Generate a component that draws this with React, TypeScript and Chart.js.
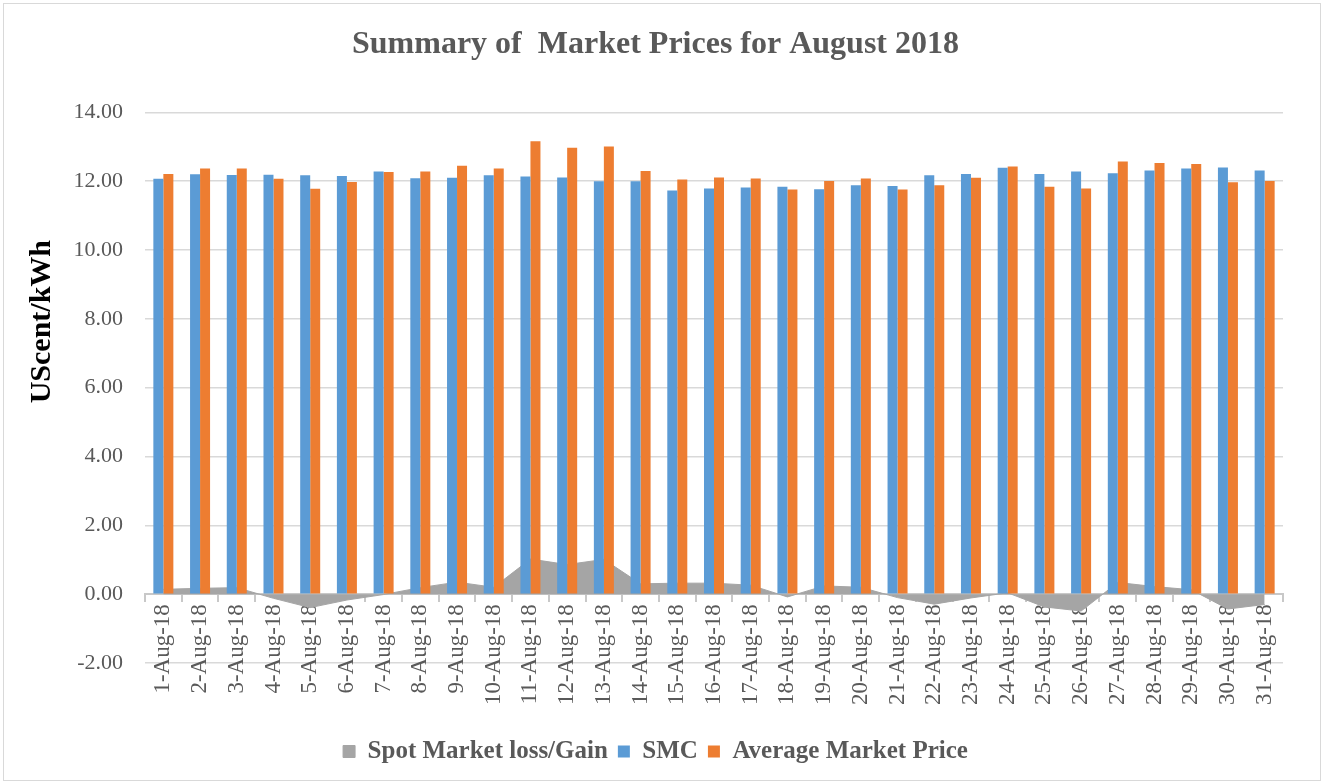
import React, { useEffect, useRef } from 'react';
import { Chart, registerables } from 'chart.js';

Chart.register(...registerables);

const chartTitle = 'Summary of  Market Prices for August 2018';
const yAxisTitle = 'UScent/kWh';

const categories = [
  '1-Aug-18', '2-Aug-18', '3-Aug-18', '4-Aug-18', '5-Aug-18', '6-Aug-18', '7-Aug-18', '8-Aug-18',
  '9-Aug-18', '10-Aug-18', '11-Aug-18', '12-Aug-18', '13-Aug-18', '14-Aug-18', '15-Aug-18', '16-Aug-18',
  '17-Aug-18', '18-Aug-18', '19-Aug-18', '20-Aug-18', '21-Aug-18', '22-Aug-18', '23-Aug-18', '24-Aug-18',
  '25-Aug-18', '26-Aug-18', '27-Aug-18', '28-Aug-18', '29-Aug-18', '30-Aug-18', '31-Aug-18',
];

const spotGain = [
  0.14, 0.17, 0.19, -0.12, -0.39, -0.17, -0.01, 0.19, 0.35, 0.2,
  1.02, 0.86, 1.01, 0.3, 0.32, 0.32, 0.26, -0.08, 0.24, 0.2,
  -0.1, -0.29, -0.11, 0.04, -0.37, -0.49, 0.34, 0.22, 0.13, -0.43, -0.3,
];

const smc = [
  12.07, 12.2, 12.18, 12.19, 12.17, 12.15, 12.28, 12.09, 12.1, 12.17,
  12.14, 12.11, 12.0, 12.0, 11.73, 11.79, 11.82, 11.84, 11.77, 11.88,
  11.86, 12.17, 12.21, 12.39, 12.21, 12.28, 12.23, 12.31, 12.37, 12.4, 12.31,
];

const avgPrice = [
  12.21, 12.37, 12.37, 12.07, 11.78, 11.98, 12.27, 12.28, 12.45, 12.37,
  13.16, 12.97, 13.01, 12.3, 12.05, 12.11, 12.08, 11.76, 12.01, 12.08,
  11.76, 11.88, 12.1, 12.43, 11.84, 11.79, 12.57, 12.53, 12.5, 11.97, 12.01,
];

const yMin = -2;
const yMax = 14;
const yStep = 2;

const SERIF = '"Liberation Serif", "Times New Roman", serif';

const framePlugin = {
  id: 'frame',
  beforeDraw(chart: any) {
    const { ctx, width, height } = chart;
    ctx.save();
    ctx.fillStyle = '#ffffff';
    ctx.fillRect(0, 0, width, height);
    ctx.strokeStyle = '#d9d9d9';
    ctx.lineWidth = 1;
    ctx.strokeRect(3.5, 3.5, width - 7, height - 7);
    ctx.restore();
  },
};

const yTitlePlugin = {
  id: 'yTitle',
  afterDraw(chart: any) {
    const { ctx, chartArea } = chart;
    ctx.save();
    ctx.translate(42, chartArea.top + chartArea.height * 0.38);
    ctx.rotate(-Math.PI / 2);
    ctx.font = `bold 30px ${SERIF}`;
    ctx.fillStyle = '#000000';
    ctx.textAlign = 'center';
    ctx.textBaseline = 'middle';
    ctx.fillText(yAxisTitle, 0, 0);
    ctx.restore();
  },
};

export default function App() {
  const ref = useRef<HTMLCanvasElement>(null);

  useEffect(() => {
    const canvas = ref.current;
    if (!canvas) return;
    const chart = new Chart(canvas, {
      type: 'bar',
      data: {
        labels: categories,
        datasets: [
          {
            type: 'line',
            label: 'Spot Market loss/Gain',
            data: spotGain,
            backgroundColor: '#A5A5A5',
            borderColor: '#A5A5A5',
            borderWidth: 1,
            pointRadius: 0,
            fill: 'origin',
            tension: 0,
            order: 2,
          } as any,
          {
            type: 'bar',
            label: 'SMC',
            data: smc,
            backgroundColor: '#5B9BD5',
            categoryPercentage: 0.545,
            barPercentage: 1.0,
            order: 1,
          },
          {
            type: 'bar',
            label: 'Average Market Price',
            data: avgPrice,
            backgroundColor: '#ED7D31',
            categoryPercentage: 0.545,
            barPercentage: 1.0,
            order: 1,
          },
        ],
      },
      options: {
        responsive: false,
        animation: false,
        devicePixelRatio: 1,
        layout: { padding: { top: 4, left: 28, right: 41, bottom: 10 } },
        plugins: {
          title: {
            display: true,
            text: chartTitle,
            color: '#595959',
            font: { family: SERIF, size: 32, weight: 'bold' },
            padding: { top: 22, bottom: 48 },
          },
          legend: {
            position: 'bottom',
            labels: {
              color: '#595959',
              font: { family: SERIF, size: 25, weight: 'bold' },
              boxWidth: 12,
              boxHeight: 12,
              padding: 10,
              sort: (a: any, b: any) => a.datasetIndex - b.datasetIndex,
            },
            title: { display: true, text: '', font: { size: 10 }, padding: { top: 54, bottom: 0 } },
          },
          tooltip: { enabled: false },
        },
        scales: {
          x: {
            position: { y: 0 } as any,
            offset: true,
            z: 1,
            grid: {
              display: true,
              drawOnChartArea: false,
              drawTicks: true,
              tickLength: 7,
              color: '#c8c8c8',
              lineWidth: 2,
              offset: true,
            },
            border: { display: true, color: '#c8c8c8', width: 2 },
            ticks: {
              color: '#595959',
              font: { family: SERIF, size: 23 },
              minRotation: 90,
              maxRotation: 90,
              autoSkip: false,
              padding: 3,
            },
          },
          y: {
            min: yMin,
            max: yMax,
            ticks: {
              stepSize: yStep,
              color: '#595959',
              font: { family: SERIF, size: 22 },
              padding: 22,
              callback: (v: any) => Number(v).toFixed(2),
            },
            grid: { color: '#d9d9d9', lineWidth: 1.5, drawTicks: false },
            border: { display: false },
            afterFit: (s: any) => {
              s.width = 117;
            },
          },
        },
      },
      plugins: [framePlugin, yTitlePlugin],
    });
    return () => chart.destroy();
  }, []);

  return (
    <div style={{ position: 'absolute', left: 0, top: 0, width: 1324, height: 784 }}>
      <canvas ref={ref} width={1324} height={784} style={{ width: 1324, height: 784, display: 'block' }} />
    </div>
  );
}
